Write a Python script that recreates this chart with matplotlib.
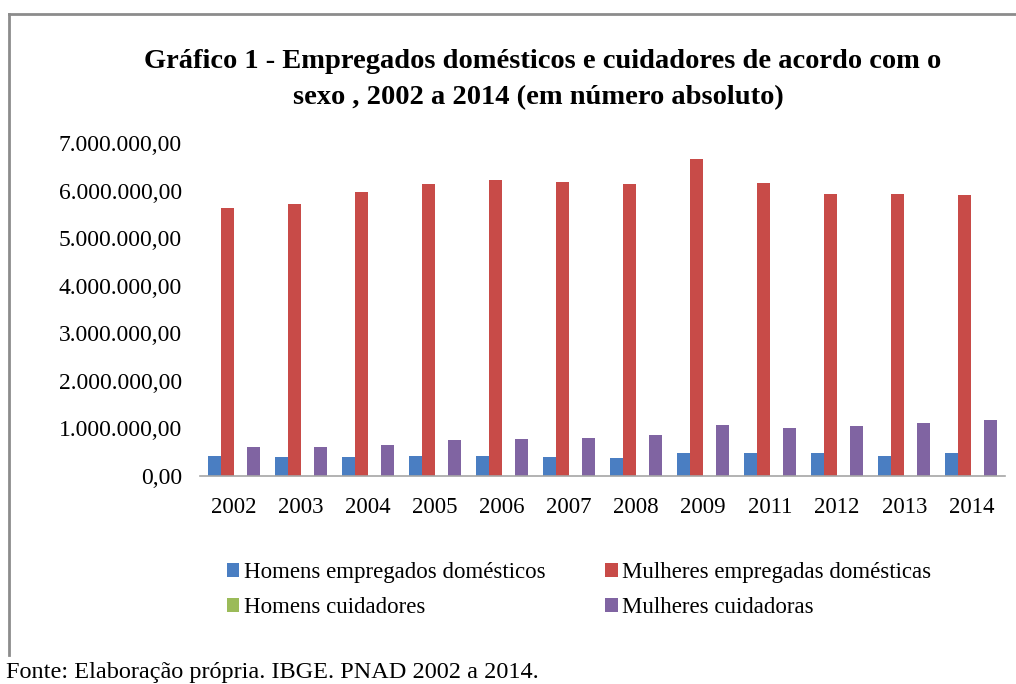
import matplotlib
matplotlib.use("Agg")
import matplotlib.pyplot as plt
import numpy as np
from matplotlib.patches import Patch
from matplotlib.lines import Line2D
from matplotlib.ticker import FuncFormatter

anos = ['2002', '2003', '2004', '2005', '2006', '2007', '2008', '2009',
        '2011', '2012', '2013', '2014']
homens_domesticos = [430000, 400000, 400000, 430000, 430000, 400000,
                     380000, 490000, 490000, 490000, 430000, 490000]
mulheres_domesticas = [5630000, 5720000, 5970000, 6140000, 6230000, 6180000,
                       6140000, 6670000, 6160000, 5930000, 5930000, 5910000]
homens_cuidadores = [0, 0, 0, 0, 0, 0, 0, 0, 0, 0, 0, 0]
mulheres_cuidadoras = [610000, 610000, 660000, 750000, 770000, 810000,
                       870000, 1080000, 1000000, 1050000, 1110000, 1170000]

series = [
    ('Homens empregados domésticos', homens_domesticos, '#4A7EC2'),
    ('Mulheres empregadas domésticas', mulheres_domesticas, '#C84B48'),
    ('Homens cuidadores', homens_cuidadores, '#9BBB59'),
    ('Mulheres cuidadoras', mulheres_cuidadoras, '#8064A2'),
]

plt.rcParams['font.family'] = ['Liberation Serif', 'DejaVu Serif']

fig = plt.figure(figsize=(10.16, 6.84), dpi=100)
ax = fig.add_axes([0.197, 0.304, 0.792, 0.487])

x = np.arange(len(anos))
w = 0.194
for i, (nome, vals, cor) in enumerate(series):
    ax.bar(x + (i - 1.5) * w, vals, width=w, color=cor, label=nome)

ax.set_xlim(-0.5, len(anos) - 0.5)
ax.set_ylim(0, 7000000)
ax.set_yticks(np.arange(0, 7000001, 1000000))


def fmt(v, pos):
    s = f'{int(v):,}'.replace(',', '.')
    return s + ',00'


ax.yaxis.set_major_formatter(FuncFormatter(fmt))
ax.set_xticks(x)
ax.set_xticklabels(anos)
ax.tick_params(axis='both', length=0, colors='#000000')
ax.tick_params(axis='y', pad=13, labelsize=17)
ax.tick_params(axis='x', pad=15, labelsize=16.5)
for s in ['top', 'right', 'left']:
    ax.spines[s].set_visible(False)
ax.spines['bottom'].set_color('#A6A6A6')
ax.spines['bottom'].set_linewidth(1.2)

fig.text(0.534, 0.910, 'Gráfico 1 - Empregados domésticos e cuidadores de acordo com o',
         ha='center', va='center', fontsize=20.5, fontweight='bold')
fig.text(0.530, 0.858, 'sexo , 2002 a 2014 (em número absoluto)',
         ha='center', va='center', fontsize=20.5, fontweight='bold')

handles = [Patch(facecolor=c, edgecolor='none') for _, _, c in series]
labels = [n for n, _, _ in series]
order = [0, 2, 1, 3]
fig.legend([handles[i] for i in order], [labels[i] for i in order],
           ncol=2, loc='center', bbox_to_anchor=(0.570, 0.137),
           frameon=False, fontsize=16.5, handlelength=0.55, handleheight=0.55,
           handletextpad=0.2, columnspacing=2.6, labelspacing=0.6)

fig.text(0.006, 0.017, 'Fonte: Elaboração própria. IBGE. PNAD 2002 a 2014.',
         ha='left', va='center', fontsize=17.5)

# moldura
fig.add_artist(Line2D([0.009, 1.0], [1 - 14 / 684, 1 - 14 / 684],
                      transform=fig.transFigure, color='#8C8C8C', lw=2))
fig.add_artist(Line2D([0.009, 0.009], [1 - 14 / 684, 1 - 655 / 684],
                      transform=fig.transFigure, color='#8C8C8C', lw=2))

fig.savefig('out.png', dpi=100)
